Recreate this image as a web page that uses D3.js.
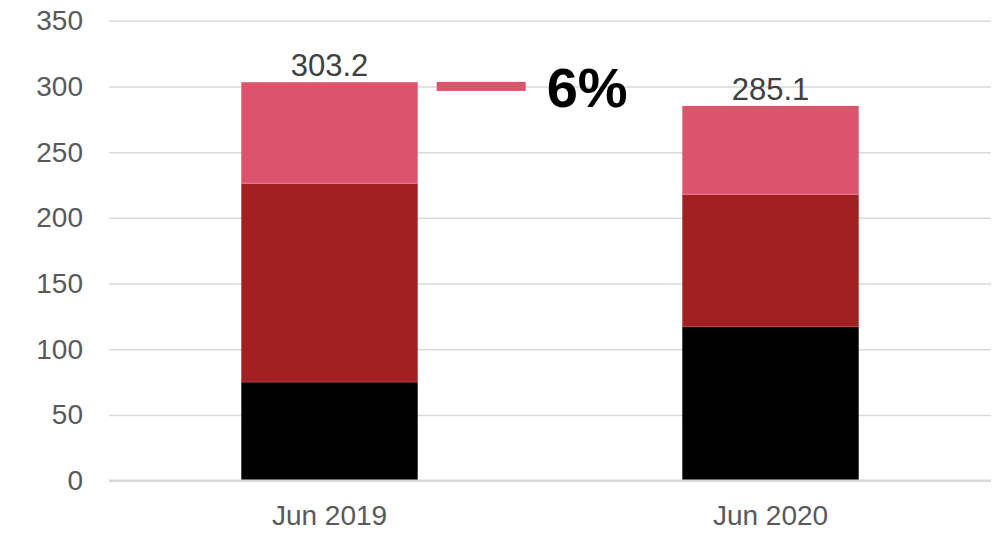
<html>

<head>
    <script src="https://d3js.org/d3.v7.min.js"></script>
    <style>
        body { margin: 0; background: #fff; }
        text { font-family: "Liberation Sans", Arial, sans-serif; }
    </style>
</head>

<body>
    <svg id="chart" width="999" height="533"></svg>
    <script>
        const categories = ["Jun 2019", "Jun 2020"];
        const blackValues = [75.1, 117.2];
        const darkRedValues = [151.2, 100.7];
        const pinkValues = [76.9, 67.2];
        const totals = [303.2, 285.1];
        const yTicks = [0, 50, 100, 150, 200, 250, 300, 350];
        const changeLabel = "6%";
        const changeLevel = 300;

        const seriesKeys = ["black", "darkRed", "pink"];
        const colors = { black: "#000000", darkRed: "#a12022", pink: "#dc546b" };
        const edgeColors = { darkRed: "#b84648", pink: "#e8808f" };

        const table = categories.map((c, i) => ({
            cat: c, black: blackValues[i], darkRed: darkRedValues[i], pink: pinkValues[i], total: totals[i]
        }));

        const svg = d3.select("#chart");
        const margins = { top: 20.7, right: 8, bottom: 52.3, left: 109 };
        const width = 999, height = 533;

        const x = d3.scaleBand().domain(categories)
            .range([margins.left, width - margins.right])
            .paddingInner(0.6).paddingOuter(0.3);
        const y = d3.scaleLinear().domain([0, 350]).range([height - margins.bottom, margins.top]);

        // gridlines
        svg.append("g")
            .attr("transform", "translate(" + margins.left + ",0)")
            .call(d3.axisLeft(y).tickValues(yTicks.slice(1)).tickSize(-(width - margins.right - margins.left)).tickFormat(""))
            .call(g => g.select(".domain").remove())
            .call(g => g.selectAll("line").attr("stroke", "#d9d9d9").attr("stroke-width", 1.5));

        // y labels
        svg.append("g")
            .attr("transform", "translate(" + margins.left + ",0)")
            .call(d3.axisLeft(y).tickValues(yTicks).tickSize(0).tickPadding(26))
            .call(g => g.select(".domain").remove())
            .call(g => g.selectAll("text")
                .attr("fill", "#595959")
                .style("font-size", "28px")
                .style("font-family", "'Liberation Sans', Arial, sans-serif"));

        const stack = d3.stack().keys(seriesKeys)(table);

        svg.append("g").selectAll("g")
            .data(stack)
            .join("g")
            .attr("fill", d => colors[d.key])
            .selectAll("rect")
            .data(d => d)
            .join("rect")
            .attr("x", d => x(d.data.cat))
            .attr("y", d => y(d[1]))
            .attr("width", x.bandwidth())
            .attr("height", d => y(d[0]) - y(d[1]));

        // separators between segments
        svg.append("g").selectAll("g")
            .data(stack.slice(1))
            .join("g")
            .attr("stroke", d => edgeColors[d.key])
            .selectAll("line")
            .data(d => d)
            .join("line")
            .attr("x1", d => x(d.data.cat))
            .attr("x2", d => x(d.data.cat) + x.bandwidth())
            .attr("y1", d => y(d[0]))
            .attr("y2", d => y(d[0]))
            .attr("stroke-width", 1);

        // baseline
        svg.append("line")
            .attr("x1", margins.left).attr("x2", width - margins.right)
            .attr("y1", y(0)).attr("y2", y(0))
            .attr("stroke", "#d9d9d9").attr("stroke-width", 2.5);

        // totals
        svg.append("g").selectAll("text")
            .data(table)
            .join("text")
            .attr("x", d => x(d.cat) + x.bandwidth() / 2)
            .attr("y", d => y(d.total) - 6)
            .attr("text-anchor", "middle")
            .attr("fill", "#404040")
            .style("font-size", "31px")
            .text(d => d.total.toFixed(1));

        // category labels
        svg.append("g").selectAll("text")
            .data(categories)
            .join("text")
            .attr("x", d => x(d) + x.bandwidth() / 2)
            .attr("y", 525)
            .attr("text-anchor", "middle")
            .attr("fill", "#595959")
            .style("font-size", "28px")
            .text(d => d);

        // change marker
        const x0 = x(categories[0]) + x.bandwidth();
        svg.append("rect")
            .attr("x", x0 + 19)
            .attr("y", y(changeLevel) - 4.5)
            .attr("width", 89)
            .attr("height", 9)
            .attr("fill", colors.pink);

        svg.append("text")
            .attr("x", x0 + 129)
            .attr("y", 106.5)
            .attr("font-weight", "bold")
            .attr("fill", "#000")
            .style("font-size", "56px")
            .text(changeLabel);
    </script>
</body>

</html>
